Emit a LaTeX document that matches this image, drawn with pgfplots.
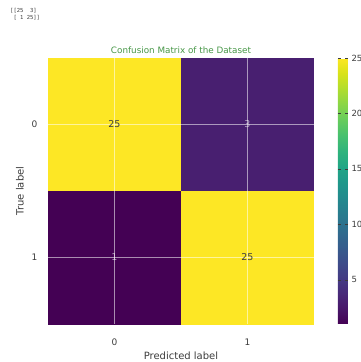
\documentclass[border=0pt]{standalone}
\usepackage{fontspec}
\setmainfont{DejaVu Sans}
\setmonofont{DejaVu Sans Mono}
\usepackage{pgfplots}
\pgfplotsset{compat=1.18}
\definecolor{titlegreen}{RGB}{70,150,70}
\definecolor{lbl}{RGB}{60,60,60}
\begin{document}
\begin{tikzpicture}
\begin{axis}[
  at={(48pt,38pt)}, anchor=south west,
  scale only axis, width=266pt, height=266pt,
  xmin=-0.5, xmax=1.5, ymin=-0.5, ymax=1.5,
  y dir=reverse,
  xtick={0,1}, ytick={0,1},
  /pgf/number format/assume math mode=true,
  major tick length=0pt,
  axis line style={draw=none},
  axis on top,
  xmajorgrids, ymajorgrids,
  grid style={white, opacity=0.55, line width=0.8pt},
  colormap/viridis,
  point meta min=1, point meta max=25,
  colorbar,
  colorbar style={
    at={(1.0902,1)}, anchor=north west,
    width=10pt, height=266pt,
    ytick={5,10,15,20,25},
    /pgf/number format/assume math mode=true,
    axis line style={draw=none},
    major tick length=3pt,
    tick style={lbl},
    yticklabel style={font=\fontsize{8.5}{9}\selectfont, text=lbl},
  },
  tick label style={font=\fontsize{9}{10}\selectfont, text=lbl},
  xticklabel style={yshift=-11pt},
  yticklabel style={xshift=-7pt},
  title={Confusion Matrix of the Dataset},
  title style={font=\fontsize{8.8}{9}\selectfont, text=titlegreen, yshift=-5pt},
  xlabel={Predicted label}, ylabel={True label},
  xlabel style={font=\fontsize{10}{11}\selectfont, text=lbl, yshift=0pt},
  ylabel style={font=\fontsize{10}{11}\selectfont, text=lbl, yshift=1pt},
]
\addplot[matrix plot*, mesh/cols=2, point meta=explicit] coordinates {
  (0,0) [25] (1,0) [3]

  (0,1) [1] (1,1) [25]
};
\addplot[only marks, mark=none, nodes near coords, point meta=explicit symbolic,
  every node near coord/.append style={anchor=center, font=\fontsize{9.5}{10}\selectfont, text=black!75}]
  coordinates {(0,0)[25] (1,1)[25]};
\addplot[only marks, mark=none, nodes near coords, point meta=explicit symbolic,
  every node near coord/.append style={anchor=center, font=\fontsize{9.5}{10}\selectfont, text=white, opacity=0.6}]
  coordinates {(1,0)[3] (0,1)[1]};
\end{axis}
\node[anchor=north west, align=left, font=\ttfamily\fontsize{5.5}{7}\selectfont, text=lbl, inner sep=0pt] at (10pt,354pt) {[[25~~3]\\~[~1~25]]};
\pgfresetboundingbox
\path[use as bounding box] (0,0) rectangle (360pt,362pt);
\end{tikzpicture}
\end{document}
